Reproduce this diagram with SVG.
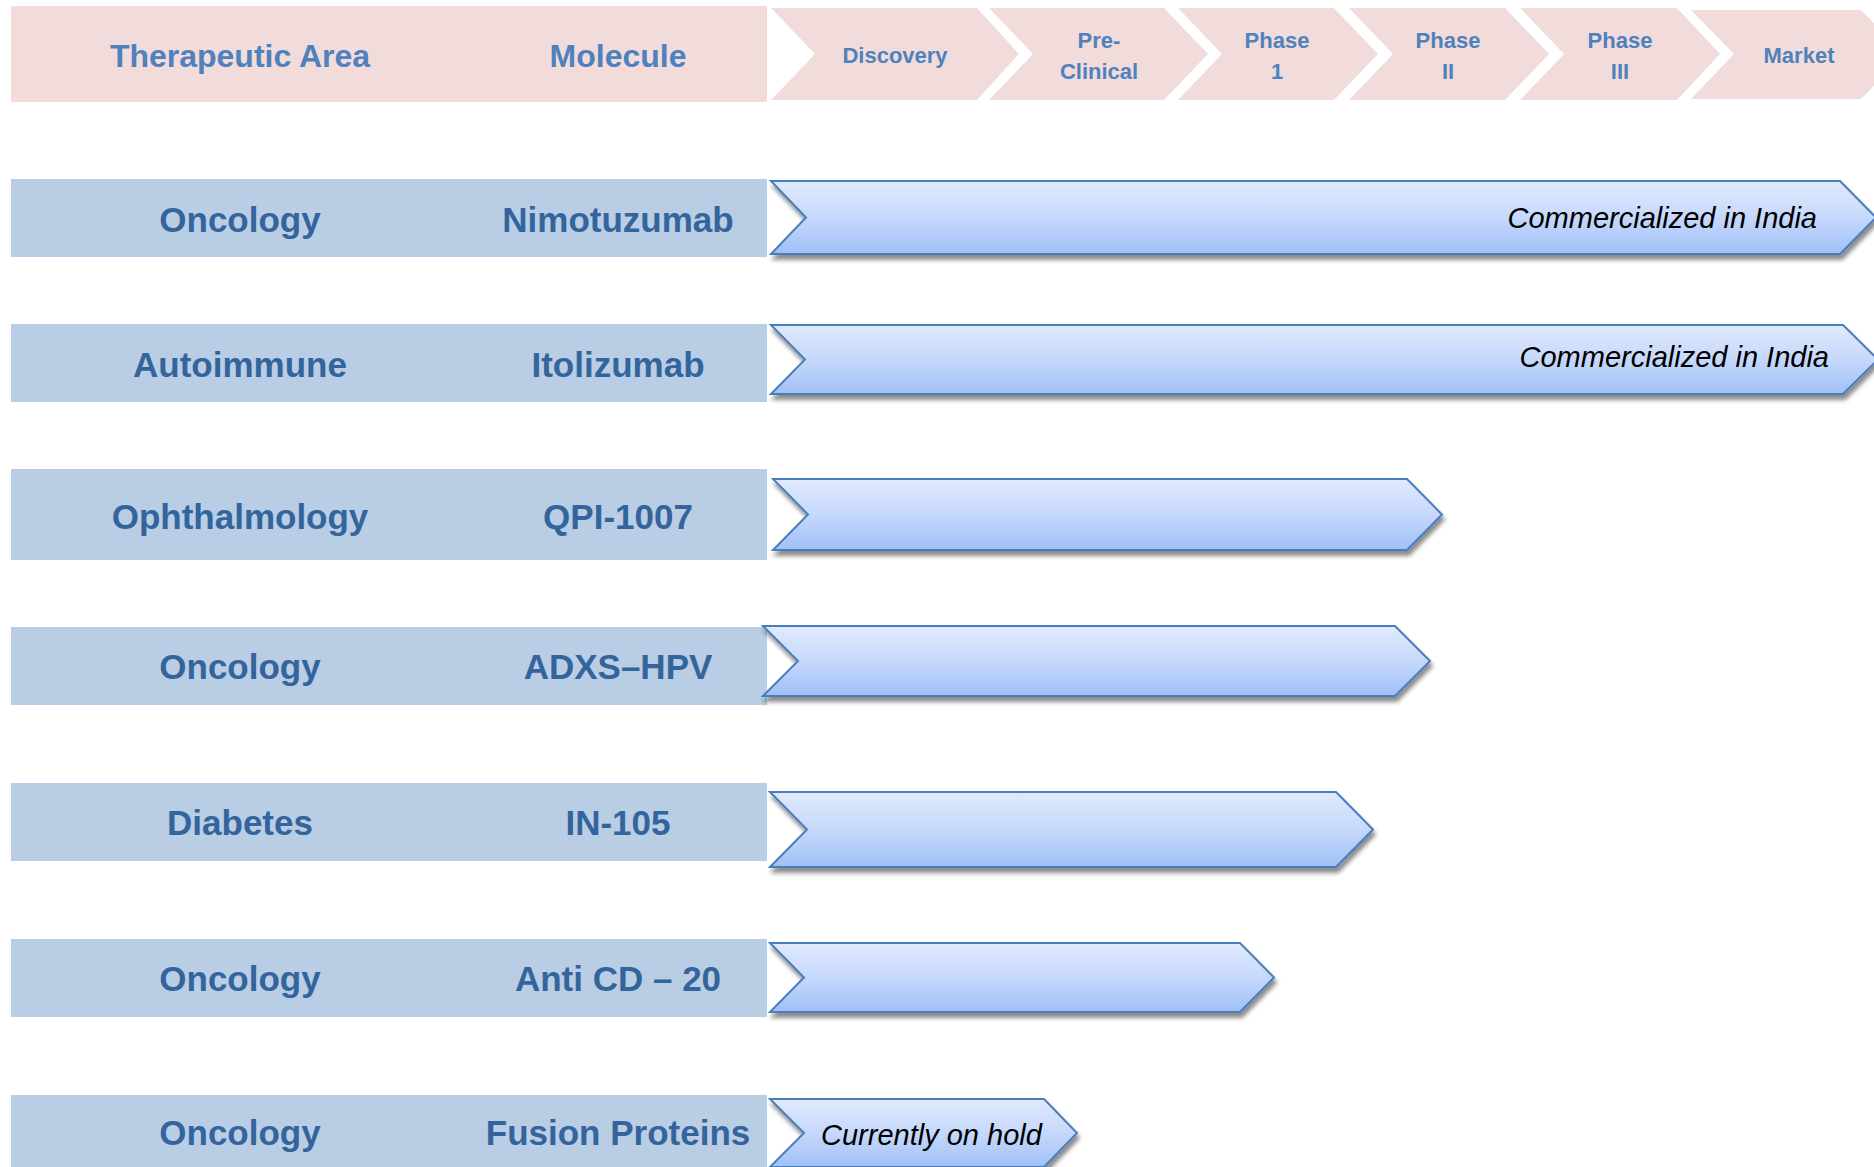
<svg xmlns="http://www.w3.org/2000/svg" width="1874" height="1167" viewBox="0 0 1874 1167">
  <defs>
    <linearGradient id="barGrad" x1="0" y1="0" x2="0" y2="1">
      <stop offset="0" stop-color="#E0EAFD"/>
      <stop offset="0.5" stop-color="#C6D8FB"/>
      <stop offset="1" stop-color="#A0C0F7"/>
    </linearGradient>
    <filter id="shadow" x="-5%" y="-20%" width="115%" height="160%">
      <feDropShadow dx="2" dy="5" stdDeviation="2.2" flood-color="#000" flood-opacity="0.45"/>
    </filter>
    <style>
      .hdrbox { fill: #F2DCDB; }
      .hdrtxt { font-family: "Liberation Sans", Arial, sans-serif; font-weight: bold; font-size: 32px; fill: #4F81BD; text-anchor: middle; }
      .phase { fill: #F2DCDB; }
      .phtxt { font-family: "Liberation Sans", Arial, sans-serif; font-weight: bold; font-size: 22px; fill: #4F81BD; text-anchor: middle; }
      .rowbox { fill: #B9CDE5; }
      .rowtxt { font-family: "Liberation Sans", Arial, sans-serif; font-weight: bold; font-size: 35px; fill: #33659C; text-anchor: middle; }
      .bar { fill: url(#barGrad); stroke: #4A7EBB; stroke-width: 2; stroke-linejoin: miter; filter: url(#shadow); }
      .bartxt { font-family: "Liberation Sans", Arial, sans-serif; font-style: italic; font-size: 29px; fill: #000; }
    </style>
  </defs>
  <rect width="1874" height="1167" fill="#FFFFFF"/>

  <g id="header">
    <rect class="hdrbox" x="11" y="6" width="756" height="96"/>
    <text class="hdrtxt" x="240" y="67">Therapeutic Area</text>
    <text class="hdrtxt" x="618" y="67">Molecule</text>
  </g>

  <g id="phase-discovery">
    <polygon class="phase" points="771,8 977,8 1019,54 977,100 771,100 815,54"/>
    <text class="phtxt" x="895" y="63">Discovery</text>
  </g>
  <g id="phase-preclinical">
    <polygon class="phase" points="989,8 1164,8 1208,54 1164,100 989,100 1033,54"/>
    <text class="phtxt" x="1099" y="48">Pre-</text>
    <text class="phtxt" x="1099" y="79">Clinical</text>
  </g>
  <g id="phase-1">
    <polygon class="phase" points="1178,8 1334,8 1378,54 1334,100 1178,100 1222,54"/>
    <text class="phtxt" x="1277" y="48">Phase</text>
    <text class="phtxt" x="1277" y="79">1</text>
  </g>
  <g id="phase-2">
    <polygon class="phase" points="1349,8 1505,8 1549,54 1505,100 1349,100 1393,54"/>
    <text class="phtxt" x="1448" y="48">Phase</text>
    <text class="phtxt" x="1448" y="79">II</text>
  </g>
  <g id="phase-3">
    <polygon class="phase" points="1520,8 1677,8 1720,54 1677,100 1520,100 1564,54"/>
    <text class="phtxt" x="1620" y="48">Phase</text>
    <text class="phtxt" x="1620" y="79">III</text>
  </g>
  <g id="phase-market">
    <polygon class="phase" points="1691,10 1861,10 1905,54 1861,99 1691,99 1734,54"/>
    <text class="phtxt" x="1799" y="63">Market</text>
  </g>

  <g id="row-nimotuzumab">
    <rect class="rowbox" x="11" y="179" width="756" height="78"/>
    <text class="rowtxt" x="240" y="232">Oncology</text>
    <text class="rowtxt" x="618" y="232">Nimotuzumab</text>
    <polygon class="bar" points="771,181 1840,181 1876,217.5 1840,254 771,254 806,217.5"/>
    <text class="bartxt" x="1817" y="228" text-anchor="end">Commercialized in India</text>
  </g>

  <g id="row-itolizumab">
    <rect class="rowbox" x="11" y="324" width="756" height="78"/>
    <text class="rowtxt" x="240" y="377">Autoimmune</text>
    <text class="rowtxt" x="618" y="377">Itolizumab</text>
    <polygon class="bar" points="771,325 1843,325 1878,359.5 1843,394 771,394 805,359.5"/>
    <text class="bartxt" x="1829" y="367" text-anchor="end">Commercialized in India</text>
  </g>

  <g id="row-qpi1007">
    <rect class="rowbox" x="11" y="469" width="756" height="91"/>
    <text class="rowtxt" x="240" y="529">Ophthalmology</text>
    <text class="rowtxt" x="618" y="529">QPI-1007</text>
    <polygon class="bar" points="773,479 1407,479 1442,514.5 1407,550 773,550 808,514.5"/>
  </g>

  <g id="row-adxs-hpv">
    <rect class="rowbox" x="11" y="627" width="756" height="78"/>
    <text class="rowtxt" x="240" y="679">Oncology</text>
    <text class="rowtxt" x="618" y="679">ADXS–HPV</text>
    <polygon class="bar" points="763,626 1395,626 1430,661 1395,696 763,696 798,661"/>
  </g>

  <g id="row-in105">
    <rect class="rowbox" x="11" y="783" width="756" height="78"/>
    <text class="rowtxt" x="240" y="835">Diabetes</text>
    <text class="rowtxt" x="618" y="835">IN-105</text>
    <polygon class="bar" points="770,792 1336,792 1373,829.5 1336,867 770,867 807,829.5"/>
  </g>

  <g id="row-anticd20">
    <rect class="rowbox" x="11" y="939" width="756" height="78"/>
    <text class="rowtxt" x="240" y="991">Oncology</text>
    <text class="rowtxt" x="618" y="991">Anti CD – 20</text>
    <polygon class="bar" points="770,943 1240,943 1274,977.5 1240,1012 770,1012 804,977.5"/>
  </g>

  <g id="row-fusion-proteins">
    <rect class="rowbox" x="11" y="1095" width="756" height="78"/>
    <text class="rowtxt" x="240" y="1145">Oncology</text>
    <text class="rowtxt" x="618" y="1145">Fusion Proteins</text>
    <polygon class="bar" points="770,1099 1044,1099 1077,1133 1044,1167 770,1167 804,1133"/>
    <text class="bartxt" x="821" y="1145">Currently on hold</text>
  </g>

  <g id="connectors"/>
</svg>
